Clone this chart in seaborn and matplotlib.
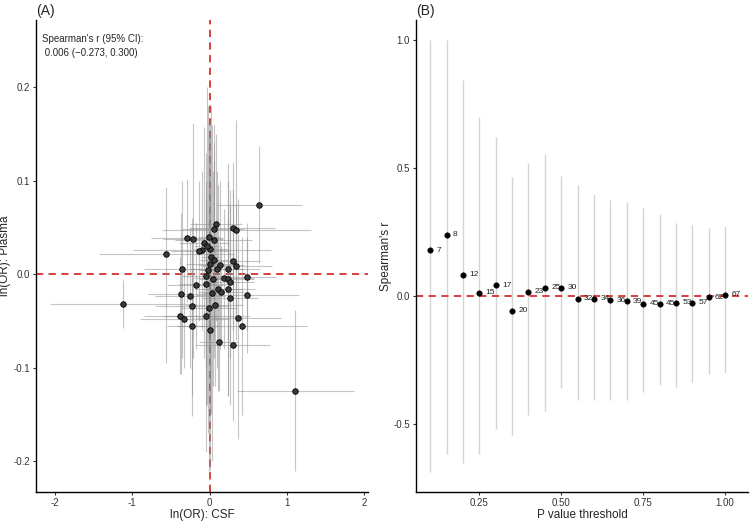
import numpy as np
import pandas as pd
import matplotlib
matplotlib.use("Agg")
import matplotlib.pyplot as plt
import seaborn as sns

# ---- panel A: per-SNP estimates (CSF vs plasma)
csf_beta = [0.635, 0.084, 0.30, 0.346, 0.054, -0.287, -0.217, 0.054, -0.075, -0.10,
            -0.13, -0.558, 0.01, 0.30, 0.0, 0.135, 0.346, -0.36, 0.243, 0.10,
            -0.045, 0.48, 0.19, 0.235, 0.265, -0.174, -0.045, 0.114, 0.152, 0.243,
            -0.372, 0.489, -0.252, 0.265, -1.118, 0.067, -0.23, -0.006, -0.377, -0.325,
            -0.045, 0.372, 0.424, -0.222, 0.119, 0.304, 1.109, 0.02, -0.02, 0.03,
            -0.01, 0.04, 0.06, 0.0, -0.03]
csf_lo = [0.09, -0.25, -0.25, -0.61, -0.35, -0.75, -0.60, -0.45, -0.40, -0.99,
          -0.50, -1.43, -0.20, -0.05, -0.30, -0.15, -0.10, -0.85, -0.15, -0.25,
          -0.35, 0.10, -0.20, -0.10, -0.05, -0.55, -0.40, -0.20, -0.15, -0.10,
          -0.80, -0.18, -0.70, -0.10, -2.06, -0.30, -0.70, -0.35, -0.85, -0.90,
          -0.60, -0.18, -0.42, -0.55, -0.13, -0.17, 0.36, -0.10, -0.12, -0.08,
          -0.15, -0.14, -0.12, -0.05, -0.20]
csf_hi = [1.19, 0.42, 0.85, 1.31, 0.45, 0.17, 0.17, 0.55, 0.25, 0.79,
          0.25, 0.31, 0.22, 0.65, 0.30, 0.45, 0.80, 0.10, 0.65, 0.45,
          0.26, 0.86, 0.58, 0.57, 0.58, 0.20, 0.31, 0.43, 0.45, 0.59,
          0.06, 1.16, 0.20, 0.63, -0.17, 0.43, 0.24, 0.34, 0.09, 0.25,
          0.51, 0.92, 1.26, 0.11, 0.37, 0.78, 1.87, 0.14, 0.08, 0.14,
          0.13, 0.22, 0.24, 0.05, 0.14]
plasma_beta = [0.074, 0.054, 0.0495, 0.047, 0.048, 0.039, 0.038, 0.036, 0.0335, 0.026,
               0.025, 0.022, 0.027, 0.0138, 0.0106, 0.010, 0.009, 0.005, 0.0057, 0.005,
               -0.002, -0.0026, -0.0044, -0.005, -0.0079, -0.012, -0.011, -0.0155, -0.019, -0.016,
               -0.021, -0.022, -0.0236, -0.026, -0.0325, -0.033, -0.034, -0.036, -0.0446, -0.0475,
               -0.045, -0.0467, -0.0553, -0.0553, -0.0728, -0.0756, -0.1248, 0.018, 0.004, -0.02,
               0.04, -0.005, 0.015, -0.06, 0.03]
plasma_lo = [0.012, -0.05, -0.02, -0.07, -0.06, -0.03, -0.09, -0.07, -0.09, -0.06,
             -0.05, -0.095, -0.12, -0.06, -0.15, -0.08, -0.05, -0.09, -0.13, -0.10,
             -0.14, -0.06, -0.08, -0.07, -0.09, -0.08, -0.10, -0.125, -0.07, -0.13,
             -0.107, -0.084, -0.10, -0.14, -0.0575, -0.12, -0.13, -0.22, -0.107, -0.10,
             -0.19, -0.176, -0.151, -0.152, -0.125, -0.157, -0.211, -0.15, -0.17, -0.20,
             -0.08, -0.12, -0.09, -0.21, -0.14]
plasma_hi = [0.137, 0.15, 0.12, 0.165, 0.16, 0.102, 0.162, 0.14, 0.158, 0.11,
             0.10, 0.093, 0.164, 0.091, 0.15, 0.10, 0.075, 0.10, 0.119, 0.11,
             0.13, 0.055, 0.07, 0.06, 0.075, 0.055, 0.08, 0.095, 0.03, 0.10,
             0.065, 0.04, 0.05, 0.09, -0.0065, 0.055, 0.06, 0.15, 0.018, 0.005,
             0.10, 0.08, 0.04, 0.04, -0.02, 0.005, -0.0386, 0.18, 0.18, 0.16,
             0.16, 0.11, 0.12, 0.09, 0.20]

# ---- panel B: Spearman's r by P value threshold
p_threshold = [0.10, 0.15, 0.20, 0.25, 0.30, 0.35, 0.40, 0.45, 0.50, 0.55,
               0.60, 0.65, 0.70, 0.75, 0.80, 0.85, 0.90, 0.95, 1.00]
spearman_r = [0.180, 0.240, 0.083, 0.013, 0.043, -0.056, 0.017, 0.033, 0.034, -0.010,
              -0.010, -0.016, -0.020, -0.029, -0.029, -0.025, -0.025, -0.003, 0.006]
r_lo = [-0.686, -0.615, -0.651, -0.617, -0.517, -0.543, -0.462, -0.448, -0.358, -0.404,
        -0.404, -0.404, -0.404, -0.374, -0.345, -0.354, -0.335, -0.305, -0.298]
r_hi = [1.0, 1.0, 0.846, 0.70, 0.62, 0.465, 0.52, 0.555, 0.47, 0.436,
        0.40, 0.375, 0.366, 0.345, 0.32, 0.286, 0.279, 0.267, 0.273]
n_snps = [7, 8, 12, 15, 17, 20, 23, 25, 30, 32, 34, 36, 39, 45, 45, 53, 57, 62, 67]

sns.set_theme(style="ticks")
plt.rcParams['font.family'] = ['Liberation Sans', 'DejaVu Sans']

RED = '#d7302c'

df_a = pd.DataFrame({'csf': csf_beta, 'plasma': plasma_beta,
                     'csf_lo': csf_lo, 'csf_hi': csf_hi,
                     'pl_lo': plasma_lo, 'pl_hi': plasma_hi})
df_b = pd.DataFrame({'p': p_threshold, 'r': spearman_r, 'lo': r_lo, 'hi': r_hi, 'n': n_snps})

fig = plt.figure(figsize=(7.5, 5.22), dpi=100)
ax1 = fig.add_axes([0.0476, 0.0569, 0.4435, 0.9048])
ax2 = fig.add_axes([0.5543, 0.0575, 0.4431, 0.9040])

# panel A
ax1.axvline(0, color=RED, ls=(0, (4, 3)), lw=1.3, zorder=1)
ax1.axhline(0, color=RED, ls=(0, (4, 3)), lw=1.3, zorder=1)
ax1.hlines(df_a['plasma'], df_a['csf_lo'], df_a['csf_hi'], color='#8c8c8c', lw=0.8, alpha=0.5, zorder=2)
ax1.vlines(df_a['csf'], df_a['pl_lo'], df_a['pl_hi'], color='#8c8c8c', lw=0.8, alpha=0.5, zorder=2)
sns.scatterplot(data=df_a, x='csf', y='plasma', ax=ax1, s=16, color='#3a3a3a',
                edgecolor='black', linewidth=0.6, zorder=3)
ax1.set_xlim(-2.245, 2.05)
ax1.set_ylim(-0.2335, 0.272)
ax1.set_xticks([-2, -1, 0, 1, 2])
ax1.set_yticks([-0.2, -0.1, 0.0, 0.1, 0.2])
ax1.set_xticklabels(['-2', '-1', '0', '1', '2'])
ax1.set_yticklabels(['-0.2', '-0.1', '0.0', '0.1', '0.2'])
ax1.set_xlabel('ln(OR): CSF', fontsize=8.5, labelpad=1)
ax1.set_ylabel('ln(OR): Plasma', fontsize=8.5)
ax1.yaxis.set_label_coords(-0.074, 0.5)
ax1.text(0.02, 0.945, "Spearman's r (95% CI):\n 0.006 (−0.273, 0.300)", transform=ax1.transAxes,
         fontsize=7, ha='left', va='center', linespacing=1.5)
ax1.text(0.0, 1.005, '(A)', transform=ax1.transAxes, fontsize=10, ha='left', va='bottom')

# panel B
ax2.vlines(df_b['p'], df_b['lo'], df_b['hi'], color='#d4d4d4', lw=1.0, zorder=1)
ax2.axhline(0, color=RED, ls=(0, (4, 3)), lw=1.3, zorder=2)
sns.scatterplot(data=df_b, x='p', y='r', ax=ax2, s=16, color='black', edgecolor='black',
                linewidth=0.3, zorder=3)
for _, row in df_b.iterrows():
    ax2.annotate(str(int(row['n'])), (row['p'], row['r']), xytext=(4.5, 0),
                 textcoords='offset points', ha='left', va='center', fontsize=6, color='#222222')
ax2.set_xlim(0.056, 1.07)
ax2.set_ylim(-0.764, 1.078)
ax2.set_xticks([0.25, 0.50, 0.75, 1.00])
ax2.set_xticklabels(['0.25', '0.50', '0.75', '1.00'])
ax2.set_yticks([-0.5, 0.0, 0.5, 1.0])
ax2.set_yticklabels(['-0.5', '0.0', '0.5', '1.0'])
ax2.set_xlabel('P value threshold', fontsize=8.5, labelpad=1)
ax2.set_ylabel("Spearman's r", fontsize=8.5)
ax2.yaxis.set_label_coords(-0.071, 0.5)
ax2.text(0.0, 1.005, '(B)', transform=ax2.transAxes, fontsize=10, ha='left', va='bottom')

for ax in (ax1, ax2):
    sns.despine(ax=ax)
    ax.spines['left'].set_linewidth(1.0)
    ax.spines['bottom'].set_linewidth(1.0)
    ax.spines['left'].set_color('black')
    ax.spines['bottom'].set_color('black')
    ax.tick_params(axis='both', labelsize=7, length=2.5, width=0.8, pad=1.5, color='#333333',
                   labelcolor='#333333')

fig.savefig('out.png', dpi=100)
